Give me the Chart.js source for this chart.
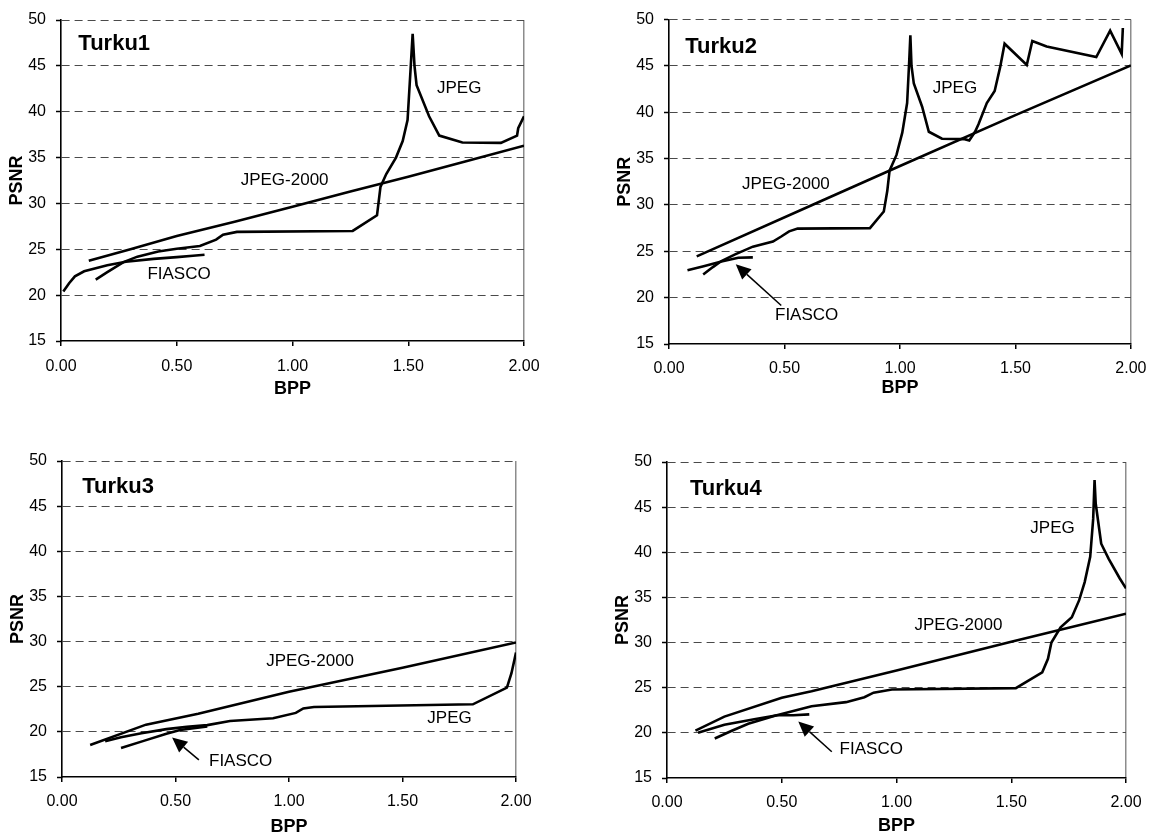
<!DOCTYPE html>
<html>
<head>
<meta charset="utf-8">
<script src="https://cdn.jsdelivr.net/npm/chart.js@4.4.0/dist/chart.umd.min.js"></script>
<style>
  html, body { margin: 0; padding: 0; background: #fff; }
  #wrap { position: relative; width: 1156px; height: 838px; overflow: hidden; }
  .panel { position: absolute; width: 578px; height: 419px; }
</style>
</head>
<body>
<div id="wrap">
  <div class="panel" style="left:0;top:0"><canvas id="c1"></canvas></div>
  <div class="panel" style="left:578px;top:0"><canvas id="c2"></canvas></div>
  <div class="panel" style="left:0;top:419px"><canvas id="c3"></canvas></div>
  <div class="panel" style="left:578px;top:419px"><canvas id="c4"></canvas></div>
</div>
<script>
const xTicks = [0, 0.5, 1, 1.5, 2];
const yTicks = [15, 20, 25, 30, 35, 40, 45, 50];

// [BPP, PSNR]
const turku1J2k = [[0.12, 23.75], [0.3, 25.0], [0.5, 26.45], [0.75, 28.0], [1.0, 29.65], [1.25, 31.3], [1.5, 32.9], [1.75, 34.6], [2.0, 36.3]];
const turku1Jpeg = [[0.15, 21.7], [0.2, 22.5], [0.27, 23.6], [0.33, 24.2], [0.42, 24.75], [0.5, 25.05], [0.6, 25.35], [0.67, 26.05], [0.7, 26.6], [0.76, 26.9], [1.26, 27.0], [1.365, 28.7], [1.38, 31.8], [1.405, 33.2], [1.447, 35.0], [1.476, 36.8], [1.497, 39.1], [1.51, 44.6], [1.519, 48.5], [1.527, 45.0], [1.536, 42.9], [1.59, 39.5], [1.634, 37.4], [1.734, 36.65], [1.9, 36.6], [1.97, 37.4], [1.975, 38.2], [2.0, 39.5]];
const turku1Fiasco = [[0.01, 20.4], [0.035, 21.3], [0.06, 22.05], [0.1, 22.6], [0.2, 23.25], [0.28, 23.65], [0.4, 23.95], [0.5, 24.15], [0.57, 24.3], [0.62, 24.4]];

const turku2J2k = [[0.12, 24.45], [0.62, 30.0], [1.0, 34.2], [1.5, 39.7], [2.0, 45.05]];
const turku2Jpeg = [[0.148, 22.5], [0.19, 23.3], [0.227, 23.95], [0.284, 24.65], [0.363, 25.5], [0.45, 26.05], [0.486, 26.6], [0.52, 27.15], [0.557, 27.45], [0.87, 27.5], [0.93, 29.3], [0.945, 31.5], [0.955, 33.7], [0.985, 35.4], [1.01, 37.8], [1.031, 41.0], [1.04, 45.5], [1.045, 48.3], [1.05, 45.0], [1.06, 43.1], [1.096, 40.6], [1.125, 37.9], [1.182, 37.15], [1.28, 37.1], [1.3, 36.95], [1.325, 37.9], [1.34, 38.7], [1.376, 41.0], [1.41, 42.3], [1.434, 44.9], [1.453, 47.4], [1.549, 45.1], [1.573, 47.7], [1.635, 47.1], [1.85, 45.95], [1.91, 48.8], [1.96, 46.3], [1.965, 49.1]];
const turku2Fiasco = [[0.08, 22.95], [0.15, 23.4], [0.227, 23.9], [0.3, 24.3], [0.363, 24.35]];

const turku3J2k = [[0.124, 18.55], [0.37, 20.8], [0.6, 22.0], [1.0, 24.45], [1.5, 27.1], [2.0, 29.9]];
const turku3Jpeg = [[0.19, 18.95], [0.26, 19.4], [0.35, 19.85], [0.46, 20.3], [0.55, 20.55], [0.64, 20.75], [0.74, 21.2], [0.93, 21.5], [1.03, 22.1], [1.063, 22.6], [1.11, 22.75], [1.81, 23.05], [1.96, 24.9], [1.98, 26.5], [1.995, 28.2], [2.0, 28.8]];
const turku3Fiasco = [[0.26, 18.2], [0.36, 19.0], [0.46, 19.8], [0.52, 20.2], [0.64, 20.6]];

const turku4J2k = [[0.124, 20.25], [0.25, 21.8], [0.5, 23.9], [0.63, 24.6], [1.0, 26.9], [1.5, 30.1], [1.75, 31.65], [2.0, 33.2]];
const turku4Jpeg = [[0.208, 19.38], [0.28, 20.2], [0.354, 21.0], [0.47, 21.9], [0.63, 22.95], [0.78, 23.4], [0.86, 23.95], [0.9, 24.45], [0.98, 24.8], [1.52, 24.95], [1.635, 26.7], [1.66, 28.2], [1.675, 30.0], [1.715, 31.7], [1.764, 32.8], [1.796, 34.7], [1.82, 36.7], [1.844, 39.5], [1.857, 43.7], [1.863, 48.0], [1.868, 45.4], [1.892, 40.95], [1.924, 39.3], [1.973, 37.1], [2.0, 36.0]];
const turku4Fiasco = [[0.135, 20.0], [0.25, 20.9], [0.38, 21.5], [0.48, 21.95], [0.55, 21.95], [0.62, 22.05]];

// text inside the plots, in data coordinates
const turku1Notes = [["Turku1", 0.075, 47.35, "title"], ["JPEG", 1.72, 42.55], ["JPEG-2000", 0.966, 32.5], ["FIASCO", 0.51, 22.25]];
const turku2Notes = [["Turku2", 0.07, 47.0, "title"], ["JPEG", 1.238, 42.6], ["JPEG-2000", 0.506, 32.25], ["FIASCO", 0.596, 18.1]];
const turku3Notes = [["Turku3", 0.089, 47.1, "title"], ["JPEG-2000", 1.093, 27.8], ["JPEG", 1.707, 21.5], ["FIASCO", 0.787, 16.7]];
const turku4Notes = [["Turku4", 0.1, 47.05, "title"], ["JPEG", 1.68, 42.7], ["JPEG-2000", 1.27, 31.9], ["FIASCO", 0.89, 18.2]];

// arrows: tail x, tail y, tip x, tip y
const turku2Arrows = [[0.486, 19.15, 0.289, 23.6]];
const turku3Arrows = [[0.603, 16.9, 0.485, 19.38]];
const turku4Arrows = [[0.718, 17.9, 0.572, 21.25]];

const FONT = '"Liberation Sans", Arial, sans-serif';

const notesPlugin = {
  id: "notes",
  afterDatasetsDraw(chart, args, opts) {
    const { ctx } = chart;
    const x = chart.scales.x, y = chart.scales.y;
    ctx.save();
    ctx.fillStyle = "#000";
    ctx.strokeStyle = "#000";
    ctx.textBaseline = "middle";
    (opts.labels || []).forEach(([text, vx, vy, kind]) => {
      if (kind === "title") {
        ctx.font = "bold 22px " + FONT;
        ctx.textAlign = "left";
      } else {
        ctx.font = "17px " + FONT;
        ctx.textAlign = "center";
      }
      ctx.fillText(text, x.getPixelForValue(vx), y.getPixelForValue(vy));
    });
    (opts.arrows || []).forEach(([x1, y1, x2, y2]) => {
      const ax = x.getPixelForValue(x1), ay = y.getPixelForValue(y1);
      const bx = x.getPixelForValue(x2), by = y.getPixelForValue(y2);
      const ang = Math.atan2(by - ay, bx - ax);
      const len = 15, half = 7;
      const hx = bx - len * Math.cos(ang), hy = by - len * Math.sin(ang);
      ctx.lineWidth = 1.5;
      ctx.beginPath();
      ctx.moveTo(ax, ay);
      ctx.lineTo(hx, hy);
      ctx.stroke();
      ctx.beginPath();
      ctx.moveTo(bx, by);
      ctx.lineTo(hx + half * Math.sin(ang), hy - half * Math.cos(ang));
      ctx.lineTo(hx - half * Math.sin(ang), hy + half * Math.cos(ang));
      ctx.closePath();
      ctx.fill();
    });
    ctx.restore();
  }
};

function toPoints(pairs) {
  return pairs.map(p => ({ x: p[0], y: p[1] }));
}

function curve(label, pairs) {
  return {
    label: label,
    data: toPoints(pairs),
    borderColor: "#000",
    borderWidth: 2.6,
    pointRadius: 0,
    tension: 0,
    fill: false
  };
}

function drawPanel(id, j2k, jpeg, fiasco, labels, arrows, box) {
  new Chart(document.getElementById(id), {
    type: "line",
    data: {
      datasets: [curve("JPEG-2000", j2k), curve("JPEG", jpeg), curve("FIASCO", fiasco)]
    },
    plugins: [notesPlugin],
    options: {
      responsive: true,
      maintainAspectRatio: false,
      animation: false,
      events: [],
      layout: { padding: { left: box.padLeft, right: box.padRight, top: box.padTop, bottom: 0 } },
      plugins: {
        legend: { display: false },
        tooltip: { enabled: false },
        notes: { labels: labels, arrows: arrows }
      },
      scales: {
        x: {
          type: "linear",
          min: 0,
          max: 2,
          afterBuildTicks: s => { s.ticks = xTicks.map(v => ({ value: v })); },
          afterFit: s => { s.height = box.xHeight; },
          ticks: {
            callback: v => Number(v).toFixed(2),
            font: { family: FONT, size: 16 },
            color: "#000",
            padding: box.tickPad,
            maxRotation: 0,
            autoSkip: false
          },
          grid: {
            color: c => (c.tick && c.tick.value === 2 ? "#8c8c8c" : "rgba(0,0,0,0)"),
            lineWidth: 1.5,
            tickColor: "#000",
            tickWidth: 1.5,
            tickLength: 5
          },
          border: { color: "#000", width: 1.6 },
          title: {
            display: true,
            text: "BPP",
            color: "#000",
            font: { family: FONT, size: 18, weight: "bold" },
            padding: { top: 0, bottom: box.bppPad }
          }
        },
        y: {
          type: "linear",
          min: 15,
          max: 50,
          afterBuildTicks: s => { s.ticks = yTicks.map(v => ({ value: v })); },
          afterFit: s => { s.width = 61; },
          ticks: {
            font: { family: FONT, size: 16 },
            color: "#000",
            padding: 10
          },
          grid: {
            color: c => (c.tick && c.tick.value === 15 ? "rgba(0,0,0,0)" : "#4a4a4a"),
            lineWidth: 1,
            tickColor: "#000",
            tickWidth: 1.5,
            tickLength: 5
          },
          border: { color: "#000", width: 1.6, dash: [8, 5] },
          title: {
            display: true,
            text: "PSNR",
            color: "#000",
            font: { family: FONT, size: 18, weight: "bold" },
            padding: { top: 6, bottom: 0 }
          }
        }
      }
    }
  });
}

drawPanel("c1", turku1J2k, turku1Jpeg, turku1Fiasco, turku1Notes, [],
  { padLeft: 0, padRight: 54, padTop: 20, xHeight: 78, bppPad: 19, tickPad: 11 });
drawPanel("c2", turku2J2k, turku2Jpeg, turku2Fiasco, turku2Notes, turku2Arrows,
  { padLeft: 30, padRight: 23, padTop: 12, xHeight: 75, bppPad: 20, tickPad: 9.5 });
drawPanel("c3", turku3J2k, turku3Jpeg, turku3Fiasco, turku3Notes, turku3Arrows,
  { padLeft: 1, padRight: 62, padTop: 42, xHeight: 61, bppPad: 0, tickPad: 10 });
drawPanel("c4", turku4J2k, turku4Jpeg, turku4Fiasco, turku4Notes, turku4Arrows,
  { padLeft: 28, padRight: 30, padTop: 43, xHeight: 60, bppPad: 1, tickPad: 9.5 });
</script>
</body>
</html>
